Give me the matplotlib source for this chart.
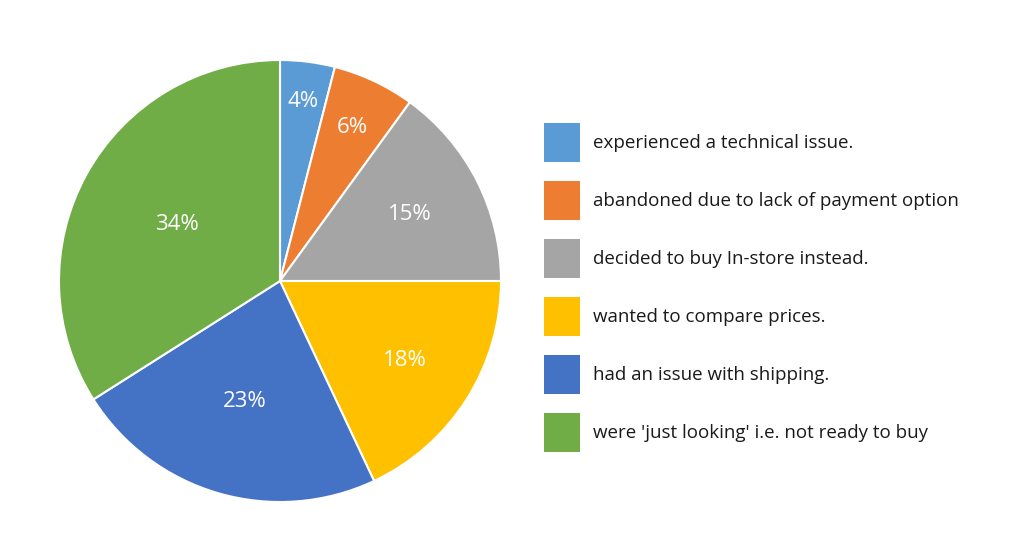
import matplotlib.pyplot as plt
from matplotlib.patches import Rectangle
import numpy as np

# shares of abandoned carts, clockwise from 12 o'clock
labels = ["experienced a technical issue.",
          "abandoned due to lack of payment option",
          "decided to buy In-store instead.",
          "wanted to compare prices.",
          "had an issue with shipping.",
          "were 'just looking' i.e. not ready to buy"]
values = [4, 6, 15, 18, 23, 34]
colors = ["#5B9BD5", "#ED7D31", "#A5A5A5", "#FFC000", "#4472C4", "#70AD47"]
# how far out each percent label sits (fraction of radius)
label_r = [0.82, 0.77, 0.66, 0.67, 0.57, 0.53]

plt.rcParams['font.family'] = ['Open Sans', 'DejaVu Sans']

fig = plt.figure(figsize=(10.24, 5.59), dpi=100)
W, H = 1024, 559
cx, cy, r = 280, 281, 221
ax = fig.add_axes([(cx - r) / W, (H - cy - r) / H, 2 * r / W, 2 * r / H])

wedges, _ = ax.pie(values, colors=colors, startangle=90, counterclock=False,
                   wedgeprops=dict(edgecolor="white", linewidth=1.5))
ax.set_xlim(-1, 1)
ax.set_ylim(-1, 1)
ax.set_aspect("equal")

for w, v, lr in zip(wedges, values, label_r):
    ang = np.deg2rad((w.theta1 + w.theta2) / 2)
    ax.text(lr * np.cos(ang), lr * np.sin(ang), f"{v}%", color="white",
            fontsize=16, ha="center", va="center")

# legend drawn by hand: colour squares + text, rows 58 px apart
top, step = 123, 58
for i, (lab, c) in enumerate(zip(labels, colors)):
    y0 = top + i * step
    fig.add_artist(Rectangle((544 / W, 1 - (y0 + 39) / H), 36 / W, 39 / H,
                             facecolor=c, edgecolor="none",
                             transform=fig.transFigure))
    fig.text(593 / W, 1 - (y0 + 20) / H, lab, fontsize=13.5,
             color="#1a1a1a", ha="left", va="center")

fig.savefig("out.png", dpi=100)
